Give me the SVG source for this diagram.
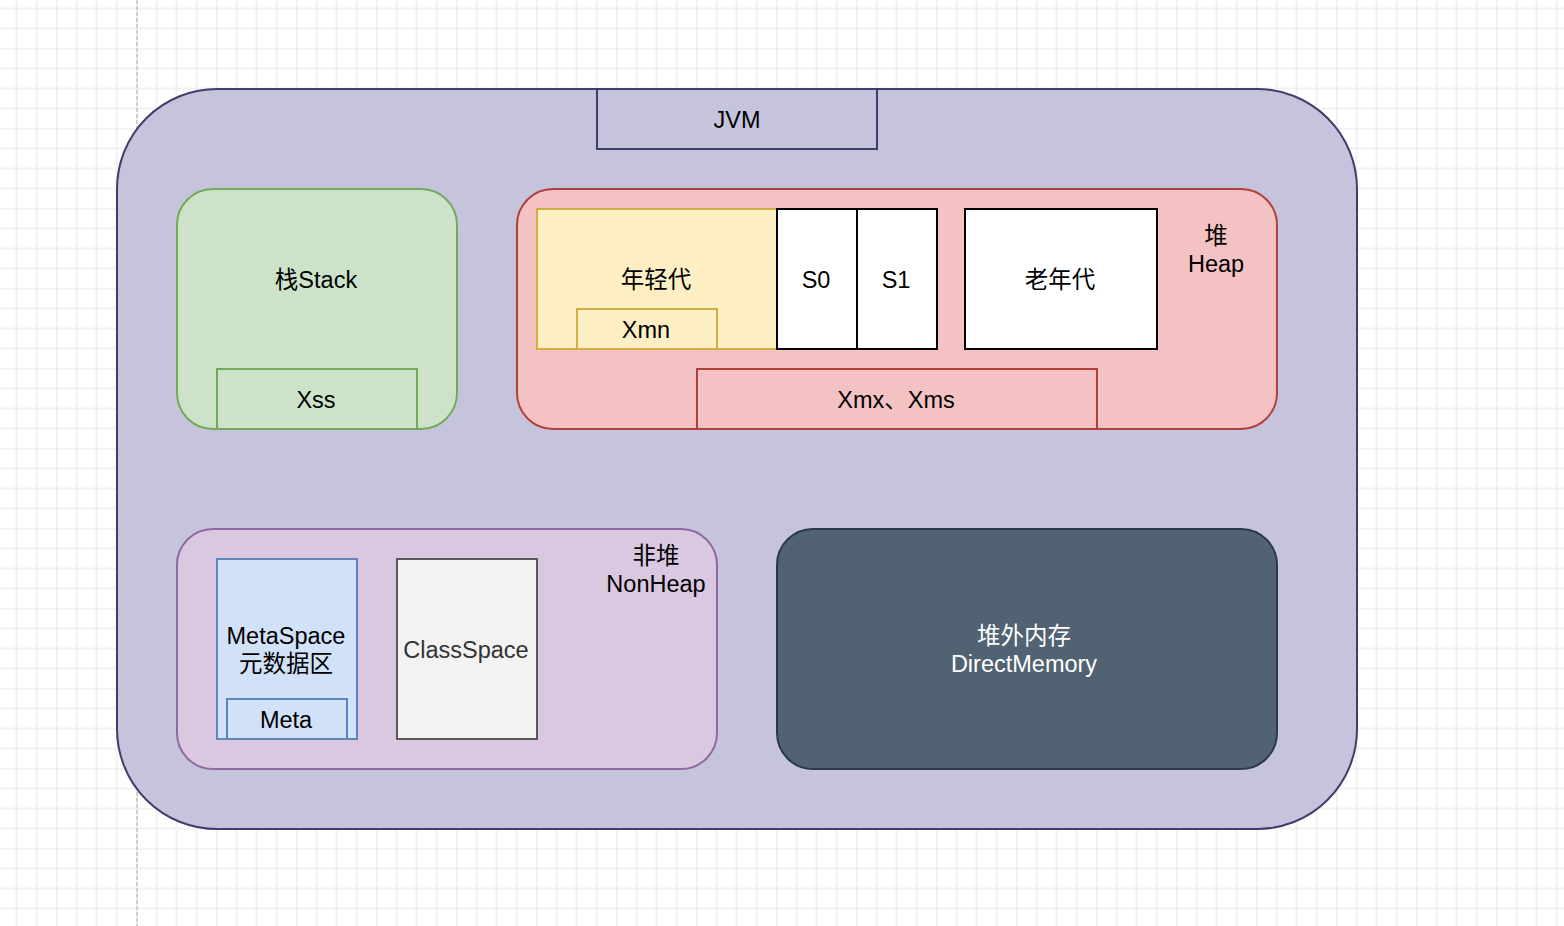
<svg xmlns="http://www.w3.org/2000/svg" width="1564" height="926" viewBox="0 0 1564 926">
<style>
text{font-family:"Liberation Sans","Noto Sans CJK SC",sans-serif;font-size:23.5px;text-anchor:middle;dominant-baseline:central;fill:#000}
.b{stroke-width:2}
</style>
<defs>
<pattern id="grid" x="56.5" y="48.5" width="80" height="80" patternUnits="userSpaceOnUse">
<path d="M20 0V80M40 0V80M60 0V80M0 20H80M0 40H80M0 60H80" stroke="#eeeeee" stroke-width="1.5" fill="none"/>
<path d="M0 0V80M0 0H80" stroke="#d3d3d3" stroke-width="1.2" fill="none"/>
</pattern>
</defs>
<rect width="1564" height="926" fill="#ffffff"/>
<rect width="1564" height="926" fill="url(#grid)"/>
<line x1="137" y1="0" x2="137" y2="926" stroke="#c4c4c4" stroke-width="1.5" stroke-dasharray="4 2"/>
<g id="jvm">
<rect class="b" x="117" y="89" width="1240" height="740" rx="100" fill="#c6c4dc" stroke="#403c6c"/>
<rect class="b" x="597" y="89" width="280" height="60" fill="#c6c4dc" stroke="#403c6c"/>
<text x="737" y="120">JVM</text>
</g>
<g id="stack">
<rect class="b" x="177" y="189" width="280" height="240" rx="36" fill="#cde3c9" stroke="#74a95a"/>
<text x="316" y="280">栈Stack</text>
</g>
<g id="xss">
<rect class="b" x="217" y="369" width="200" height="60" fill="#cde3c9" stroke="#74a95a"/>
<text x="316" y="400">Xss</text>
</g>
<g id="heap">
<rect class="b" x="517" y="189" width="760" height="240" rx="36" fill="#f4c2c2" stroke="#b0413e"/>
<text x="1216" y="236">堆</text>
<text x="1216" y="264">Heap</text>
</g>
<g id="young">
<rect class="b" x="537" y="209" width="240" height="140" fill="#fdefc3" stroke="#d2ac45"/>
<text x="656" y="280">年轻代</text>
</g>
<g id="xmn">
<rect class="b" x="577" y="309" width="140" height="40" fill="#fdefc3" stroke="#d2ac45"/>
<text x="646" y="330">Xmn</text>
</g>
<g id="s0">
<rect class="b" x="777" y="209" width="80" height="140" fill="#ffffff" stroke="#000000"/>
<text x="816" y="280">S0</text>
</g>
<g id="s1">
<rect class="b" x="857" y="209" width="80" height="140" fill="#ffffff" stroke="#000000"/>
<text x="896" y="280">S1</text>
</g>
<g id="old">
<rect class="b" x="965" y="209" width="192" height="140" fill="#ffffff" stroke="#000000"/>
<text x="1060" y="280">老年代</text>
</g>
<g id="xmx">
<rect class="b" x="697" y="369" width="400" height="60" fill="#f4c2c2" stroke="#b0413e"/>
<text x="896" y="400">Xmx、Xms</text>
</g>
<g id="nonheap">
<rect class="b" x="177" y="529" width="540" height="240" rx="36" fill="#d9c8e0" stroke="#8e6aa0"/>
<text x="656" y="556">非堆</text>
<text x="656" y="584">NonHeap</text>
</g>
<g id="metaspace">
<rect class="b" x="217" y="559" width="140" height="180" fill="#d1e1f8" stroke="#5f84bb"/>
<text x="286" y="636">MetaSpace</text>
<text x="286" y="664">元数据区</text>
</g>
<g id="meta">
<rect class="b" x="227" y="699" width="120" height="40" fill="#d1e1f8" stroke="#5f84bb"/>
<text x="286" y="720">Meta</text>
</g>
<g id="classspace">
<rect class="b" x="397" y="559" width="140" height="180" fill="#f2f2f2" stroke="#595959"/>
<text x="466" y="650" style="fill:#333333">ClassSpace</text>
</g>
<g id="direct">
<rect class="b" x="777" y="529" width="500" height="240" rx="36" fill="#516273" stroke="#2b3a4a"/>
<text x="1024" y="636" style="fill:#ffffff">堆外内存</text>
<text x="1024" y="664" style="fill:#ffffff">DirectMemory</text>
</g>
<g id="connectors"></g>
</svg>
